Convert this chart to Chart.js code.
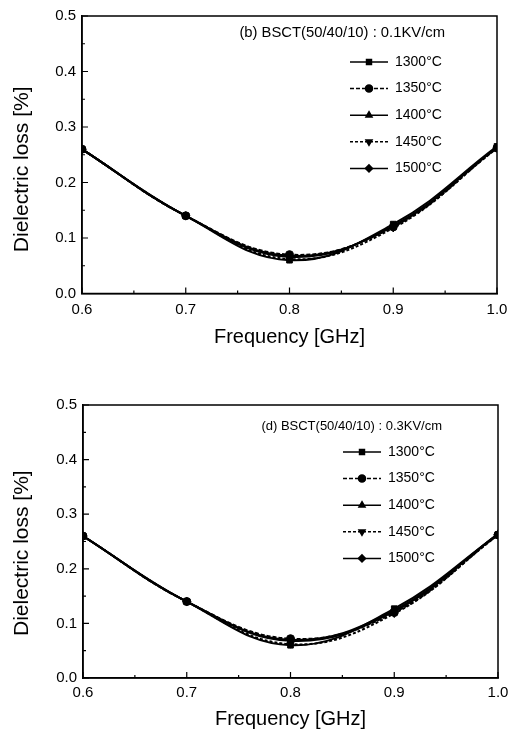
<!DOCTYPE html>
<html>
<head>
<meta charset="utf-8">
<script src="https://cdn.jsdelivr.net/npm/chart.js@4/dist/chart.umd.min.js"></script>
<style>
  html, body { margin: 0; padding: 0; background: #fff; }
  .panel { position: absolute; left: 0; width: 508px; height: 366px; }
  #panelB { top: 0; }
  #panelD { top: 366px; }
</style>
</head>
<body>
<div class="panel" id="panelB"><canvas id="chartB" width="508" height="366"></canvas></div>
<div class="panel" id="panelD"><canvas id="chartD" width="508" height="366"></canvas></div>
<script>
// frequency points [GHz]
const frequencies = [0.6, 0.7, 0.8, 0.9, 1.0];
const temperatures = ['1300°C', '1350°C', '1400°C', '1450°C', '1500°C'];

// (b) 0.1 KV/cm - dielectric loss [%]
const lossB1300 = [0.260, 0.140, 0.060, 0.125, 0.265];
const lossB1350 = [0.260, 0.140, 0.070, 0.120, 0.262];
const lossB1400 = [0.260, 0.140, 0.066, 0.122, 0.263];
const lossB1450 = [0.260, 0.140, 0.062, 0.118, 0.262];
const lossB1500 = [0.260, 0.140, 0.068, 0.121, 0.264];

// (d) 0.3 KV/cm - dielectric loss [%]
const lossD1300 = [0.260, 0.140, 0.060, 0.127, 0.263];
const lossD1350 = [0.260, 0.140, 0.072, 0.120, 0.262];
const lossD1400 = [0.260, 0.140, 0.068, 0.122, 0.264];
const lossD1450 = [0.260, 0.140, 0.062, 0.118, 0.262];
const lossD1500 = [0.260, 0.140, 0.070, 0.124, 0.263];

const xTicks = [0.6, 0.7, 0.8, 0.9, 1.0];
const yTicks = [0.0, 0.1, 0.2, 0.3, 0.4, 0.5];

const FONT = "'Liberation Sans', Arial, sans-serif";

// marker + line style per temperature
const seriesStyles = [
    { pointStyle: 'rect', rotation: 0, dash: [] },
    { pointStyle: 'circle', rotation: 0, dash: [4, 2] },
    { pointStyle: 'triangle', rotation: 0, dash: [] },
    { pointStyle: 'triangle', rotation: 180, dash: [3, 2] },
    { pointStyle: 'rectRot', rotation: 0, dash: [] }
];

function buildDatasets(seriesList) {
    return seriesList.map(function(values, i) {
        const st = seriesStyles[i];
        return {
            label: temperatures[i],
            data: frequencies.map(function(f, j) { return { x: f, y: values[j] }; }),
            borderColor: '#000',
            backgroundColor: '#000',
            borderWidth: 2,
            borderDash: st.dash,
            pointStyle: st.pointStyle,
            rotation: st.rotation,
            pointRadius: 4,
            pointBorderWidth: 1,
            tension: 0.4,
            fill: false
        };
    });
}

// frame, inward ticks, annotation and inner legend
const framePlugin = {
    id: 'frame',
    afterDraw: function(chart, args, opts) {
        const ctx = chart.ctx;
        const a = chart.chartArea;
        const xs = chart.scales.x;
        const ys = chart.scales.y;
        ctx.save();
        ctx.strokeStyle = '#000';
        ctx.lineWidth = 1.5;
        ctx.strokeRect(a.left, a.top, a.right - a.left, a.bottom - a.top);

        ctx.lineWidth = 1.2;
        ctx.beginPath();
        for (let v = 0.6; v <= 1.0001; v += 0.05) {
            const px = xs.getPixelForValue(v);
            const major = Math.abs(v * 10 - Math.round(v * 10)) < 0.01;
            ctx.moveTo(px, a.bottom);
            ctx.lineTo(px, a.bottom - (major ? 6 : 3));
        }
        for (let v = 0; v <= 0.5001; v += 0.05) {
            const py = ys.getPixelForValue(v);
            const major = Math.abs(v * 10 - Math.round(v * 10)) < 0.01;
            ctx.moveTo(a.left, py);
            ctx.lineTo(a.left + (major ? 6 : 3), py);
        }
        ctx.stroke();

        // annotation
        ctx.fillStyle = '#000';
        ctx.font = opts.noteSize + 'px ' + FONT;
        ctx.textAlign = 'right';
        ctx.textBaseline = 'middle';
        ctx.fillText(opts.note, a.right - opts.noteRight, a.top + opts.noteTop);

        // legend
        ctx.font = '14px ' + FONT;
        ctx.textAlign = 'left';
        chart.data.datasets.forEach(function(ds, i) {
            const y = a.top + opts.legendTop + i * 26.6;
            const tx = a.right - opts.legendRight;
            ctx.lineWidth = 1.5;
            ctx.setLineDash(ds.borderDash || []);
            ctx.beginPath();
            ctx.moveTo(tx - 45, y);
            ctx.lineTo(tx - 7, y);
            ctx.stroke();
            ctx.setLineDash([]);
            Chart.helpers.drawPoint(ctx, {
                pointStyle: ds.pointStyle,
                rotation: ds.rotation,
                radius: 3.5,
                borderWidth: 1
            }, tx - 26, y);
            ctx.fill();
            ctx.fillText(ds.label, tx, y);
        });
        ctx.restore();
    }
};

function makeChart(canvasId, seriesList, panel) {
    return new Chart(document.getElementById(canvasId), {
        type: 'line',
        data: { datasets: buildDatasets(seriesList) },
        options: {
            responsive: false,
            animation: false,
            layout: { padding: { top: panel.top, right: panel.right, left: 0, bottom: 0 } },
            plugins: {
                legend: { display: false },
                tooltip: { enabled: false },
                frame: panel.frame
            },
            scales: {
                x: {
                    type: 'linear',
                    min: xTicks[0],
                    max: xTicks[xTicks.length - 1],
                    afterBuildTicks: function(scale) {
                        scale.ticks = xTicks.map(function(v) { return { value: v }; });
                    },
                    afterFit: function(scale) {
                        scale.height = panel.xHeight;
                        scale.paddingLeft = 0;
                        scale.paddingRight = 0;
                    },
                    grid: { display: false, drawTicks: false },
                    border: { display: true, color: '#000', width: 1.5 },
                    ticks: {
                        color: '#000',
                        padding: panel.xPad,
                        maxRotation: 0,
                        font: { family: FONT, size: 15 },
                        callback: function(v) { return Number(v).toFixed(1); }
                    },
                    title: {
                        display: true,
                        text: 'Frequency [GHz]',
                        color: '#000',
                        font: { family: FONT, size: 20 },
                        padding: { top: 0, bottom: panel.xTitlePad }
                    }
                },
                y: {
                    type: 'linear',
                    min: yTicks[0],
                    max: yTicks[yTicks.length - 1],
                    afterBuildTicks: function(scale) {
                        scale.ticks = yTicks.map(function(v) { return { value: v }; });
                    },
                    afterFit: function(scale) { scale.width = panel.yWidth; },
                    grid: { display: false, drawTicks: false },
                    border: { display: true, color: '#000', width: 1.5 },
                    ticks: {
                        color: '#000',
                        padding: 6,
                        font: { family: FONT, size: 15 },
                        callback: function(v) { return Number(v).toFixed(1); }
                    },
                    title: {
                        display: true,
                        // trailing blanks push the centred title a little lower, as in the original
                        text: 'Dielectric loss [%]' + '\u00a0'.repeat(panel.yTitleShift),
                        color: '#000',
                        font: { family: FONT, size: 21 },
                        padding: { top: 10, bottom: 0 }
                    }
                }
            }
        },
        plugins: [framePlugin]
    });
}

makeChart('chartB', [lossB1300, lossB1350, lossB1400, lossB1450, lossB1500], {
    top: 16, right: 11, yWidth: 82, xHeight: 72.5, xPad: 7, xTitlePad: 17, yTitleShift: 5,
    frame: { note: '(b) BSCT(50/40/10) : 0.1KV/cm', noteSize: 14.8, noteRight: 52, noteTop: 17,
             legendTop: 46, legendRight: 102 }
});

makeChart('chartD', [lossD1300, lossD1350, lossD1400, lossD1450, lossD1500], {
    top: 39, right: 10, yWidth: 83, xHeight: 54, xPad: 6, xTitlePad: 1, yTitleShift: 4,
    frame: { note: '(d) BSCT(50/40/10) : 0.3KV/cm', noteSize: 13, noteRight: 56, noteTop: 21,
             legendTop: 47, legendRight: 110 }
});
</script>
</body>
</html>
